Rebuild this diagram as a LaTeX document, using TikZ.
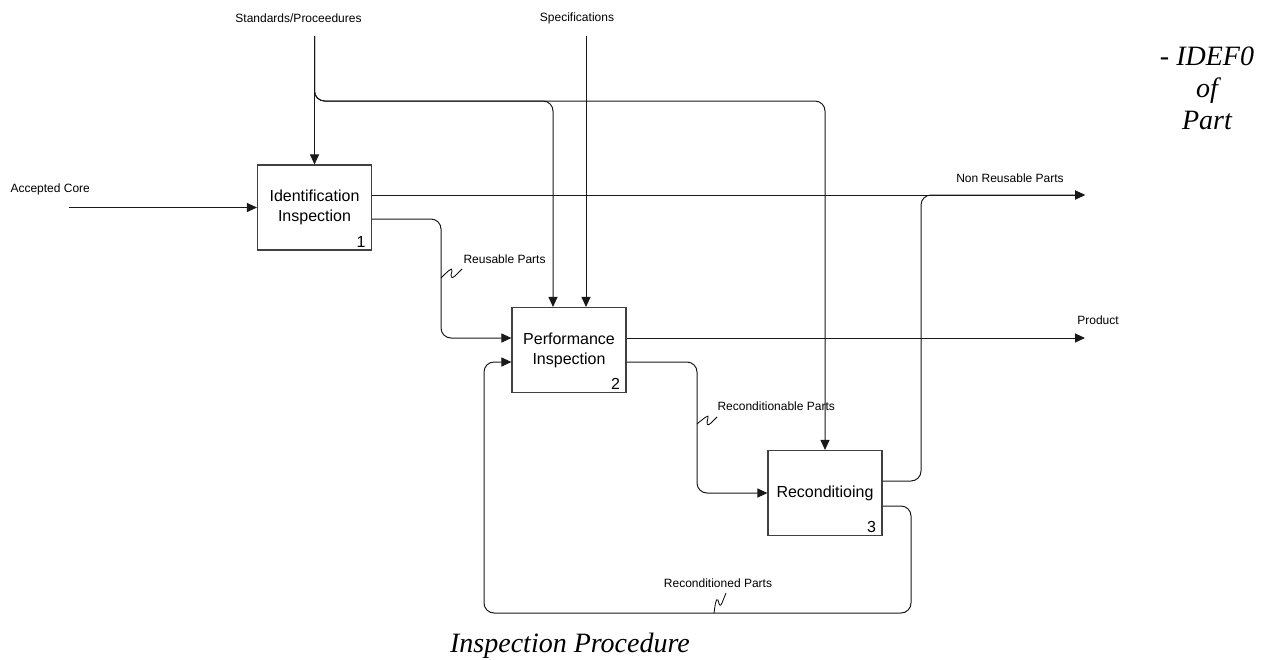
\documentclass[tikz,border=0pt]{standalone}
\usepackage{fontspec}
\setmainfont{Liberation Serif}
\newfontfamily\arialfont{Liberation Sans}
\usetikzlibrary{arrows.meta}
\begin{document}
\begin{tikzpicture}[x=1pt,y=-1pt,
  line width=1pt,
  arr/.style={draw=black!90,-{Triangle[length=10pt,width=9pt]},rounded corners=10pt},
  actbox/.style={draw=black!75,line width=1.1pt,minimum width=114pt,minimum height=85pt,
    inner sep=0pt,align=center,font=\arialfont\fontsize{16}{20}\selectfont},
  boxnum/.style={anchor=south east,inner xsep=6pt,inner ysep=3pt,font=\arialfont\fontsize{16}{16}\selectfont},
  lbl/.style={inner sep=0pt,font=\arialfont\fontsize{12}{14}\selectfont},
  squig/.style={draw=black,line width=0.8pt},
  title/.style={inner sep=0pt,align=center,font=\fontsize{28}{32}\selectfont\itshape}]
\useasboundingbox (0,0) rectangle (1274,659);

% activity boxes
\node[actbox] (b1) at (314.5,207.5) {Identification\\Inspection};
\node[actbox] (b2) at (569,350) {Performance\\Inspection};
\node[actbox] (b3) at (825,493) {Reconditioing};
\node[boxnum] (n1) at (b1.south east) {1};
\node[boxnum] (n2) at (b2.south east) {2};
\node[boxnum] (n3) at (b3.south east) {3};

% free ends of boundary arrows
\coordinate (accin) at (69,207.5);
\coordinate (stdtop) at (314.5,36);
\coordinate (spectop) at (586,36);
\coordinate (nrpend) at (1085,195);
\coordinate (prodend) at (1085,338);

% inputs and controls
\draw[arr] (accin) -- (b1.west);
\draw[arr] (stdtop) -- (b1.north);
\draw[arr] (stdtop) -- (314.5,101) -- (553,101) -- ([xshift=-16pt]b2.north);
\draw[arr] (stdtop) -- (314.5,101) -- (825,101) -- (b3.north);
\draw[arr] (spectop) -- (spectop |- b2.north);

% outputs
\draw[arr] ([yshift=12.5pt]b1.east) -- (nrpend);
\draw[arr] ([yshift=-11.5pt]b1.east) -- (441,219) -- (441,338) -- ([yshift=12pt]b2.west);
\draw[arr] ([yshift=12pt]b2.east) -- (prodend);
\draw[arr] ([yshift=-12pt]b2.east) -- (697,362) -- (697,493) -- (b3.west);
\draw[arr] ([yshift=12pt]b3.east) -- (921,481) -- (921,195) -- (nrpend);
\draw[arr] ([yshift=-13pt]b3.east) -- (911,506) -- (911,613) -- (484,613) -- (484,362) -- ([yshift=-12pt]b2.west);

% label squiggles
\draw[squig] (441,278) .. controls (447,272) and (453,266) .. (452,271) .. controls (450,276) and (451,280) .. (455,276) .. controls (458,273) .. (462,269);
\draw[squig] (697,424) .. controls (703,419) and (710,413) .. (708,418) .. controls (706,424) and (707,427) .. (711,423) .. controls (714,420) .. (717,417);
\draw[squig] (714,613) .. controls (715,606) and (716,597) .. (718,600) .. controls (719,604) and (720,608) .. (722,603) .. controls (724,598) .. (726,593);

% labels
\node[lbl] (tstd) at (298.5,18) {Standards/Proceedures};
\node[lbl] (tspec) at (577,18) {Specifications};
\node[lbl,anchor=west] (tacc) at (10,189) {Accepted Core};
\node[lbl] (tnrp) at (1010,178) {Non Reusable Parts};
\node[lbl] (tprod) at (1098,320) {Product};
\node[lbl,anchor=west] (treu) at (463,259) {Reusable Parts};
\node[lbl,anchor=west] (trcb) at (717,406) {Reconditionable Parts};
\node[lbl] (trcd) at (718,583) {Reconditioned Parts};

% titles
\node[title] (tidef) at (1207,88) {- IDEF0\\of\\Part};
\node[title,anchor=base] (tproc) at (570,652) {Inspection Procedure};
\end{tikzpicture}
\end{document}
